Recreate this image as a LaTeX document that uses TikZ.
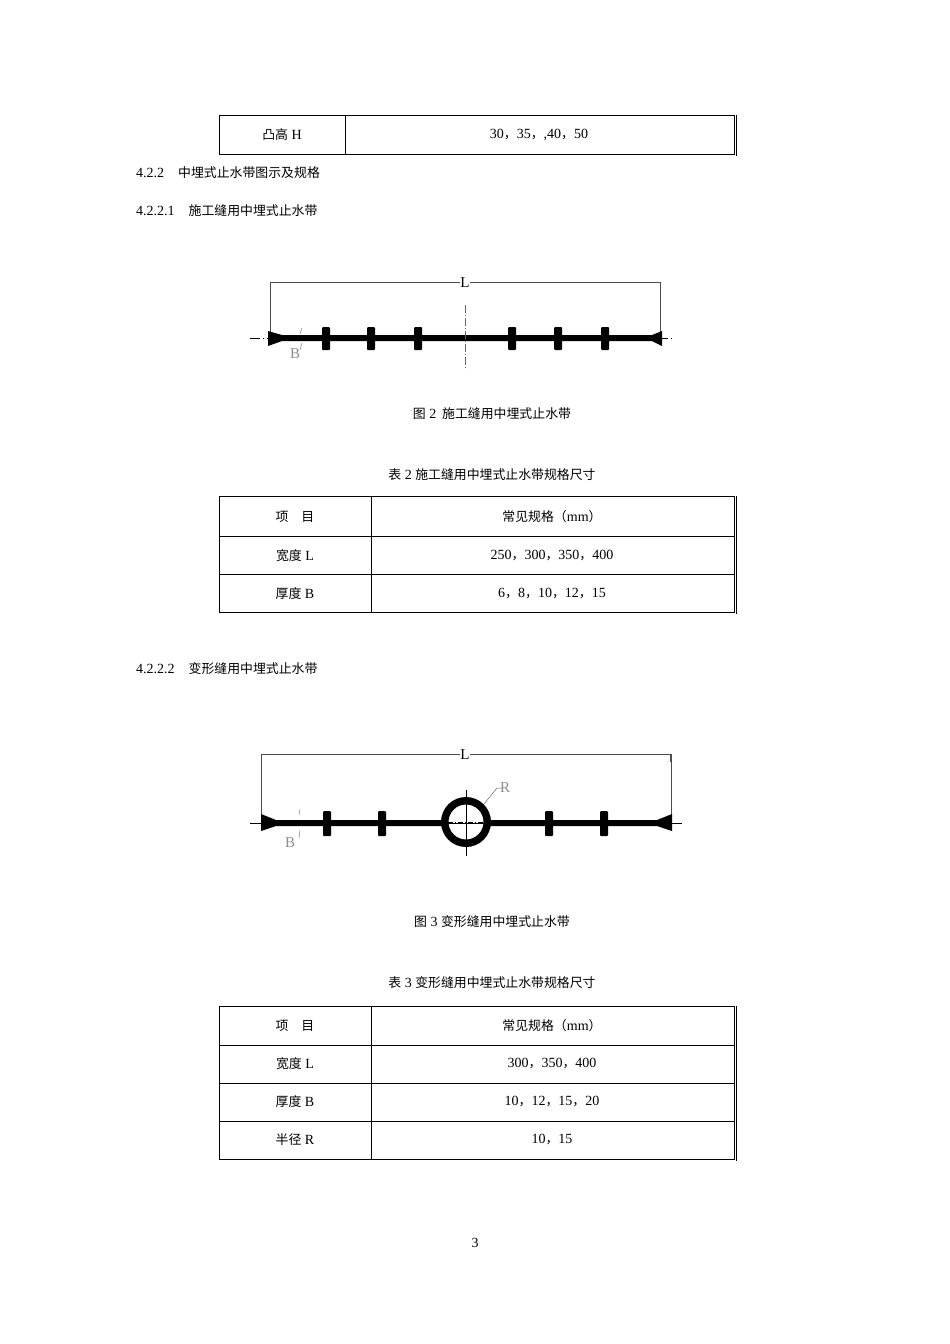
\documentclass[tikz,border=0pt]{standalone}
\usepackage{fontspec}
\setmainfont{Liberation Serif}
\newfontfamily\cjk{Noto Sans CJK SC}[Scale=0.92]
\begin{document}
\begin{tikzpicture}[x=1pt,y=-1pt,font=\fontsize{14}{16}\selectfont,
  tline/.style={line width=0.8pt},
  txt/.style={inner sep=0pt,anchor=west},
  cc/.style={inner sep=0pt},
  rib/.style={fill=black,rounded corners=1pt},
  axis/.style={line width=0.6pt,dash pattern=on 8pt off 2pt on 1pt off 2pt},
  dim/.style={line width=0.6pt,black!70},
  glab/.style={inner sep=0pt,text=black!45,font=\fontsize{15}{15}\selectfont}]
\useasboundingbox (0,0) rectangle (950,1344);
% top table
\draw[tline] (219,115) rectangle (734,154) (345,115)--(345,154);
\draw[tline] (736,115)--(736,156);
\node[cc] (t0a) at (282,135) {{\cjk 凸高} H};
\node[cc] (t0b) at (539,135) {30{\cjk ，}35{\cjk ，},40{\cjk ，}50};
\node[txt] (h1) at (136,173) {4.2.2\quad{\cjk 中埋式止水带图示及规格}};
\node[txt] (h2) at (136,211) {4.2.2.1\quad{\cjk 施工缝用中埋式止水带}};
% figure 2
\draw[dim] (270,290)--(270,282)--(460,282) (470,282)--(660,282)--(660,290);
\draw[dim] (270,282)--(270,338) (660,282)--(660,338);
\node[cc,font=\fontsize{15}{15}\selectfont] (L1) at (465,283) {L};
\draw[line width=0.6pt,dash pattern=on 10pt off 3pt on 1pt off 3pt] (250,338)--(672,338);
\fill (268,331)--(282,335)--(652,335)--(662,331)--(662,346)--(652,341)--(282,341)--(268,346)--cycle;
\foreach \x in {326,371,418,512,558,605}{\fill[rib] (\x-4,327) rectangle (\x+4,350);}
\draw[axis,white!40!black] (465,305)--(465,370);
\draw[line width=0.5pt,black!50] (302,328)--(300,334) (302,343)--(300,350);
\node[glab] (B1) at (295,354) {B};
\node[cc] (c2) at (492,414) {{\cjk 图} 2\, {\cjk 施工缝用中埋式止水带}};
\node[cc] (tt2) at (492,475) {{\cjk 表} 2 {\cjk 施工缝用中埋式止水带规格尺寸}};
% table 2
\draw[tline] (219,496) rectangle (734,612) (371,496)--(371,612) (219,536)--(734,536) (219,574)--(734,574);
\draw[tline] (736,496)--(736,614);
\node[cc] at (295,517) {\cjk 项\quad 目};
\node[cc] at (552,517) {{\cjk 常见规格（}mm{\cjk ）}};
\node[cc] at (295,556) {{\cjk 宽度} L};
\node[cc] at (552,556) {250{\cjk ，}300{\cjk ，}350{\cjk ，}400};
\node[cc] at (295,594) {{\cjk 厚度} B};
\node[cc] at (552,594) {6{\cjk ，}8{\cjk ，}10{\cjk ，}12{\cjk ，}15};
\node[txt] (h3) at (136,669) {4.2.2.2\quad{\cjk 变形缝用中埋式止水带}};
% figure 3
\draw[dim] (261,762)--(261,754)--(460,754) (470,754)--(670,754)--(670,762);
\draw[dim] (261,754)--(261,822) (671,754)--(671,822);
\node[cc,font=\fontsize{15}{15}\selectfont] (L2) at (465,755) {L};
\draw[line width=0.6pt] (250,823)--(682,823);
\fill (261,814)--(276,820)--(442,820)--(442,826)--(276,826)--(261,831)--cycle;
\fill (672,814)--(657,820)--(490,820)--(490,826)--(657,826)--(672,831)--cycle;
\foreach \x in {327,382,549,604}{\fill[rib] (\x-4,811) rectangle (\x+4,836);}
\fill[even odd rule] (466,822) circle (25) (466,822) circle (17.5);
\draw[line width=0.6pt] (466,790)--(466,856);
\draw[line width=0.5pt,dash pattern=on 5pt off 2pt on 1pt off 2pt] (448,822)--(484,822);
\draw[line width=0.5pt,black!60] (484,804)--(497,788)--(503,788);
\node[glab,anchor=west] (R2) at (500,788) {R};
\draw[line width=0.5pt,black!50] (300,809)--(299,815) (300,830)--(299,838);
\node[glab] (B2) at (290,843) {B};
\node[cc] (c3) at (492,922) {{\cjk 图} 3 {\cjk 变形缝用中埋式止水带}};
\node[cc] (tt3) at (492,983) {{\cjk 表} 3 {\cjk 变形缝用中埋式止水带规格尺寸}};
% table 3
\draw[tline] (219,1006) rectangle (734,1159) (371,1006)--(371,1159) (219,1045)--(734,1045) (219,1083)--(734,1083) (219,1121)--(734,1121);
\draw[tline] (736,1006)--(736,1161);
\node[cc] at (295,1026) {\cjk 项\quad 目};
\node[cc] at (552,1026) {{\cjk 常见规格（}mm{\cjk ）}};
\node[cc] at (295,1064) {{\cjk 宽度} L};
\node[cc] at (552,1064) {300{\cjk ，}350{\cjk ，}400};
\node[cc] at (295,1102) {{\cjk 厚度} B};
\node[cc] at (552,1102) {10{\cjk ，}12{\cjk ，}15{\cjk ，}20};
\node[cc] at (295,1140) {{\cjk 半径} R};
\node[cc] at (552,1140) {10{\cjk ，}15};
\node[cc] (pg) at (475,1243) {3};
\end{tikzpicture}
\end{document}
